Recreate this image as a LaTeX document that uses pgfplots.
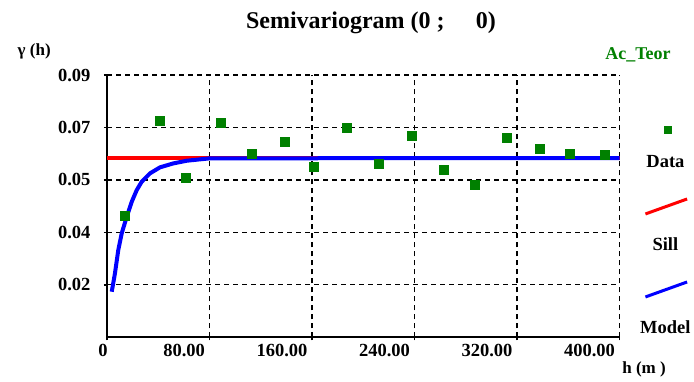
\documentclass[border=0pt]{standalone}
\usepackage{fontspec}
\setmainfont{Liberation Serif}
\usepackage{pgfplots}
\pgfplotsset{compat=1.18}
\definecolor{datagreen}{RGB}{0,128,0}

% legend keys sit above their labels
\pgfplotsset{
  key line/.style={legend image code/.code={\path (0pt,0pt);
    \draw[overlay,##1,line width=3pt] (7pt,31pt) -- (48.7pt,46pt);}},
  key mark/.style={legend image code/.code={\path (0pt,0pt);
    \draw[overlay,##1,mark size=3.5pt] plot coordinates {(29pt,32pt)};}},
}

% experimental semivariogram: lag distance h (m), gamma(h)
\pgfplotstableread{
h      g
14.0   0.0404
40.8   0.0722
61.4   0.0533
89.0   0.0715
113.2  0.0614
138.9  0.0654
161.2  0.0569
187.1  0.0699
212.4  0.0580
238.0  0.0673
262.5  0.0558
287.2  0.0509
312.0  0.0667
337.4  0.0628
361.4  0.0613
388.1  0.0608
}\expdata

% fitted model curve
\pgfplotstableread{
h      g
3.7    0.0152
6.2    0.0213
8.8    0.0291
11.5   0.0347
15.4   0.0402
19.3   0.0452
23.2   0.0491
27.1   0.0519
33.6   0.0547
41.4   0.0567
51.7   0.0580
62.2   0.0589
80.4   0.0597
400.0  0.0598
}\modeldata

\begin{document}
\begin{tikzpicture}[font=\fontsize{18.5}{20}\selectfont\bfseries]
\useasboundingbox (0,0) rectangle (694pt,382pt);
\begin{axis}[
  at={(107pt,44.7pt)}, anchor=south west,
  scale only axis, width=512.5pt, height=262.3pt,
  xmin=0, xmax=400, ymin=0, ymax=0.0875,
  axis lines=left,
  axis line style={-, black, line width=2pt},
  grid=major,
  grid style={black, line width=1.2pt, dash pattern=on 5pt off 4pt},
  xtick={80,160,240,320,400},
  xticklabels={80.00,160.00,240.00,320.00,400.00},
  extra x ticks={0},
  extra x tick labels={0},
  extra x tick style={grid=none, xticklabel style={anchor=north, xshift=-3pt}},
  ytick={0.0175,0.035,0.0525,0.07,0.0875},
  yticklabels={0.02,0.04,0.05,0.07,0.09},
  scaled y ticks=false,
  tick align=outside,
  major tick length=3pt,
  tick style={black, line width=1.5pt},
  xticklabel style={anchor=north east, xshift=-1pt},
  yticklabel style={xshift=-10pt},
  title={Semivariogram (0 ;\hspace{1.3em}0)},
  title style={at={(axis description cs:0.515,1.176)}, anchor=center,
    font=\fontsize{24}{26}\selectfont\bfseries},
  xlabel={h (m )},
  xlabel style={at={(axis description cs:1.048,-0.121)}, anchor=center,
    font=\fontsize{17}{19}\selectfont\bfseries},
  ylabel={γ (h)},
  ylabel style={at={(axis description cs:-0.142,1.09)}, anchor=center, rotate=-90,
    font=\fontsize{17}{19}\selectfont\bfseries},
  clip=false,
  legend style={draw=none, fill=none, inner sep=0pt, outer sep=0pt,
    at={(axis description cs:1.033,0.702)}, anchor=north west,
    row sep={83pt,between origins}, column sep={27pt,between origins},
    nodes={inner sep=2pt, anchor=center}},
  legend cell align=center,
]
\addplot[only marks, mark=square*, mark size=4.5pt, datagreen, key mark]
  table[x=h, y=g] {\expdata};
\addplot[red, line width=3.5pt, key line]
  coordinates {(0,0.0598) (400,0.0598)};
\addplot[blue, line width=4pt, key line]
  table[x=h, y=g] {\modeldata};
\legend{Data, Sill, Model}
\node[datagreen, anchor=center, font=\fontsize{18}{20}\selectfont\bfseries]
  at (axis description cs:1.036,1.076) {Ac\_Teor};
\end{axis}
\end{tikzpicture}
\end{document}
